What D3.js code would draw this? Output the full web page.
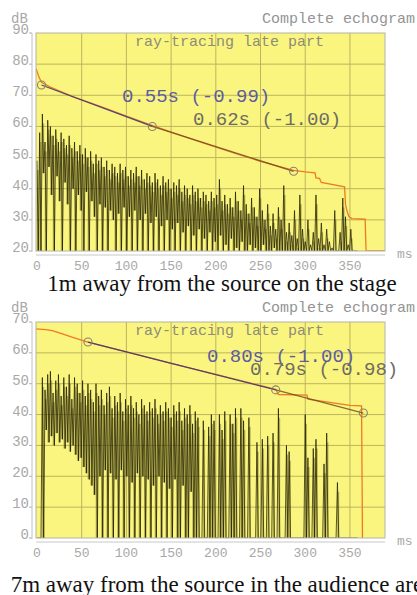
<!DOCTYPE html>
<html>
<head>
<meta charset="utf-8">
<script src="https://cdnjs.cloudflare.com/ajax/libs/d3/7.8.5/d3.min.js"></script>
<style>
  body { margin: 0; background: #fff; }
  svg { display: block; }
</style>
</head>
<body>
<svg id="chart" width="417" height="595"></svg>
<script>
// ---- data ----
var STEP = 3; // ms between echogram samples

var xTicks = [0, 50, 100, 150, 200, 250, 300, 350];
var stageYTicks = [20, 30, 40, 50, 60, 70, 80, 90];
var audYTicks = [0, 10, 20, 30, 40, 50, 60, 70];

// 1m from source, peak / trough level of each sample (dB)
var stageHi = [
  49, 58, 64, 55, 62, 60, 57, 59, 55, 58,
  56, 54, 57, 53, 55, 52, 54, 51, 53, 50,
  52, 48, 51, 49, 50, 47, 49, 46, 48, 47,
  45, 48, 46, 47, 44, 46, 45, 47, 44, 46,
  43, 45, 44, 42, 45, 43, 41, 44, 42, 43,
  40, 42, 41, 43, 39, 41, 40, 38, 41, 39,
  40, 37, 39, 38, 36, 39, 37, 38, 43, 36,
  38, 35, 37, 34, 39, 36, 33, 41, 35, 32,
  37, 34, 31, 40, 33, 30, 35, 28, 32, 27,
  34, 30, 41, 26, 29, 25, 33, 24, 38, 27,
  23, 30, 22, 26, 38, 24, 29, 22, 27, 23,
  21, 33, 20, 26, 37, 31, 22, 27, 20, 20
];
var stageLo = [
  20, 20, 45, 20, 47, 38, 20, 44, 36, 20,
  42, 35, 20, 40, 20, 38, 33, 20, 39, 20,
  36, 31, 20, 35, 20, 34, 20, 33, 30, 20,
  32, 20, 34, 20, 31, 20, 33, 20, 30, 20,
  32, 20, 29, 20, 31, 20, 28, 20, 30, 20,
  27, 20, 29, 20, 26, 20, 28, 20, 25, 20,
  27, 20, 24, 20, 26, 20, 23, 20, 25, 20,
  22, 20, 24, 20, 21, 20, 23, 20, 20, 22,
  20, 21, 20, 20, 22, 20, 20, 20, 21, 20,
  20, 20, 20, 20, 20, 20, 20, 20, 20, 20,
  20, 20, 20, 20, 20, 20, 20, 20, 20, 20,
  20, 20, 20, 20, 20, 20, 20, 20, 20, 20
];
// integrated decay curve [ms, dB]
var stageDecay = [[-1, 78.5], [2, 76], [5, 74.2], [15, 72.6], [40, 69.6], [70, 66.5],
  [100, 63.3], [130, 60.2], [160, 57.2], [190, 54.3], [220, 51.5], [250, 48.8],
  [287, 45.9], [300, 45.4], [311, 45.1], [312, 43.5], [316, 43.3], [318, 42],
  [344, 40.6], [345, 35], [347, 32.5], [349, 31], [352, 30.4], [367, 30.2],
  [368, 20], [389, 20]];
var stageMarks = [[5, 73.3], [129, 60], [287, 45.6]];
var stageFits = ["0.55s (-0.99)", "0.62s (-1.00)"];

// 7m from source
var audHi = [
  0, 0, 52, 48, 53, 54, 47, 51, 53, 46,
  52, 49, 53, 45, 52, 50, 47, 51, 46, 50,
  48, 44, 50, 46, 48, 43, 47, 49, 42, 46,
  44, 47, 41, 45, 43, 46, 42, 44, 40, 45,
  43, 41, 44, 42, 45, 40, 43, 41, 44, 42,
  39, 43, 41, 44, 38, 42, 40, 43, 37, 41,
  39, 0, 38, 0, 36, 40, 38, 0, 40, 35,
  41, 0, 40, 37, 42, 0, 42, 38, 0, 39,
  0, 0, 31, 0, 32, 0, 33, 0, 34, 0,
  42, 0, 0, 30, 28, 0, 0, 0, 0, 0,
  40, 26, 0, 29, 32, 0, 0, 24, 34, 0,
  0, 0, 18, 0, 0, 0, 0, 0, 0, 0
];
var audLo = [
  0, 0, 0, 35, 31, 33, 30, 34, 31, 32,
  29, 31, 28, 30, 27, 25, 26, 23, 21, 19,
  17, 14, 0, 20, 0, 22, 0, 21, 0, 19,
  0, 22, 0, 20, 0, 18, 0, 21, 0, 20,
  0, 19, 0, 17, 0, 20, 0, 18, 0, 16,
  0, 19, 0, 0, 17, 0, 0, 15, 0, 0,
  0, 0, 0, 0, 0, 0, 0, 0, 0, 0,
  0, 0, 0, 0, 0, 0, 0, 0, 0, 0,
  0, 0, 0, 0, 0, 0, 0, 0, 0, 0,
  0, 0, 0, 0, 0, 0, 0, 0, 0, 0,
  0, 0, 0, 0, 0, 0, 0, 0, 0, 0,
  0, 0, 0, 0, 0, 0, 0, 0, 0, 0
];
var audDecay = [[-1, 67.8], [10, 67.5], [17, 67.2], [25, 66.5], [40, 65], [57, 63.5],
  [100, 60.3], [150, 56.6], [200, 53], [267, 48.2], [270, 46.5], [302, 46.3],
  [303, 45], [350, 43], [363, 42.8], [364, 0]];
var audMarks = [[57, 63.5], [267, 48], [365, 40.5]];
var audFits = ["0.80s (-1.00)", "0.79s (-0.98)"];

var captions = ["1m away from the source on the stage",
                "7m away from the source in the audience area"];

// ---- drawing ----
var svg = d3.select("#chart");
var mono = "'Liberation Mono', 'Courier New', monospace";
var yellow = "#faf57f", gridCol = "#bdb55e", grayTxt = "#a8a8a8";

function drawPanel(p){
  var x = d3.scaleLinear().domain([-1.1, 389.2]).range([36, 385]);
  var y = d3.scaleLinear().domain(p.yDomain).range([p.bottom, p.top]);
  var g = svg.append("g");
  var clipId = "clip" + p.id;

  g.append("clipPath").attr("id", clipId)
    .append("rect").attr("x", 36).attr("y", p.top).attr("width", 349).attr("height", p.bottom - p.top);

  g.append("rect")
    .attr("x", 36).attr("y", p.top)
    .attr("width", 349).attr("height", p.bottom - p.top)
    .attr("fill", yellow);

  // grid
  g.selectAll(".vg").data(xTicks.slice(1)).enter().append("line")
    .attr("x1", function(d){ return x(d); }).attr("x2", function(d){ return x(d); })
    .attr("y1", p.top).attr("y2", p.bottom)
    .attr("stroke", gridCol).attr("stroke-width", 1);
  g.selectAll(".hg").data(p.yTicks.slice(1, -1)).enter().append("line")
    .attr("x1", 36).attr("x2", 385)
    .attr("y1", function(d){ return y(d); }).attr("y2", function(d){ return y(d); })
    .attr("stroke", gridCol).attr("stroke-width", 1);

  var body = g.append("g").attr("clip-path", "url(#" + clipId + ")");
  var floor = p.yDomain[0];

  // olive band behind each sample
  body.selectAll(".band").data(p.hi).enter().append("rect")
    .attr("x", function(d, i){ return x(i * STEP) - 0.3; })
    .attr("width", x(STEP) - x(0) - 0.6)
    .attr("y", function(d){ return y(d - 3); })
    .attr("height", function(d, i){
      if (d <= floor) return 0;
      return Math.max(0, y(p.lo[i]) - y(d - 3));
    })
    .attr("fill", "#6e6818")
    .attr("fill-opacity", 0.45);

  // echogram as a saw-tooth between peaks and troughs
  var pts = [];
  p.hi.forEach(function(v, i){
    pts.push([i * STEP, v]);
    pts.push([i * STEP + STEP / 2, p.lo[i]]);
  });
  var line = d3.line().x(function(d){ return x(d[0]); }).y(function(d){ return y(d[1]); });
  body.append("path").datum(pts)
    .attr("d", line)
    .attr("fill", "none")
    .attr("stroke", "#1c1a00")
    .attr("stroke-opacity", 0.8)
    .attr("stroke-width", 0.9);

  // decay curve
  body.append("path").datum(p.decay)
    .attr("d", line)
    .attr("fill", "none")
    .attr("stroke", "#f07a22")
    .attr("stroke-width", 1.3);

  // fitted slopes
  body.append("path").datum([p.marks[0], p.marks[1]])
    .attr("d", line).attr("fill", "none")
    .attr("stroke", "#34347c").attr("stroke-width", 1.3).attr("stroke-opacity", 0.85);
  body.append("path").datum([p.marks[1], p.marks[2]])
    .attr("d", line).attr("fill", "none")
    .attr("stroke", "#6a4a22").attr("stroke-width", 1.3).attr("stroke-opacity", 0.8);

  g.selectAll(".mk").data(p.marks).enter().append("circle")
    .attr("cx", function(d){ return x(d[0]); })
    .attr("cy", function(d){ return y(d[1]); })
    .attr("r", 4)
    .attr("fill", "none")
    .attr("stroke", "#8a8070")
    .attr("stroke-width", 1.1);

  g.append("rect")
    .attr("x", 36).attr("y", p.top)
    .attr("width", 349).attr("height", p.bottom - p.top)
    .attr("fill", "none").attr("stroke", "#b4b4a8");

  // axes
  g.append("line").attr("x1", 32).attr("x2", 32).attr("y1", p.top).attr("y2", p.bottom + 1)
    .attr("stroke", "#c0c0c0");
  g.append("line").attr("x1", 36).attr("x2", 385).attr("y1", p.bottom + 4).attr("y2", p.bottom + 4)
    .attr("stroke", "#c8c8c8");

  g.selectAll(".yt").data(p.yTicks).enter().append("line")
    .attr("x1", 29).attr("x2", 32)
    .attr("y1", function(d){ return y(d); }).attr("y2", function(d){ return y(d); })
    .attr("stroke", "#b0b0b0");
  g.selectAll(".yl").data(p.yTicks).enter().append("text")
    .attr("x", 29).attr("y", function(d){ return y(d) + 1; })
    .attr("text-anchor", "end")
    .attr("font-family", mono).attr("font-size", 14)
    .attr("fill", grayTxt)
    .text(function(d){ return d; });
  g.append("text").attr("x", 11).attr("y", p.top - 10)
    .attr("font-family", mono).attr("font-size", 14).attr("fill", grayTxt).text("dB");

  g.selectAll(".xl").data(xTicks).enter().append("text")
    .attr("x", function(d){ return x(d); }).attr("y", p.bottom + 19)
    .attr("text-anchor", "middle")
    .attr("font-family", mono).attr("font-size", 13)
    .attr("fill", grayTxt)
    .text(function(d){ return d; });
  g.append("text").attr("x", 397).attr("y", p.bottom + 7)
    .attr("font-family", mono).attr("font-size", 13).attr("fill", grayTxt).text("ms");

  g.append("text").attr("x", 415).attr("y", p.top - 10)
    .attr("text-anchor", "end")
    .attr("font-family", mono).attr("font-size", 15).attr("fill", "#949494")
    .text("Complete echogram");
  g.append("text").attr("x", 135).attr("y", p.top + 13)
    .attr("font-family", mono).attr("font-size", 15).attr("fill", "#8e8c78")
    .text("ray-tracing late part");

  g.append("text").attr("x", p.fit1[0]).attr("y", p.fit1[1])
    .attr("font-family", mono).attr("font-size", 19).attr("fill", "#5c5ca0")
    .text(p.fits[0]);
  g.append("text").attr("x", p.fit2[0]).attr("y", p.fit2[1])
    .attr("font-family", mono).attr("font-size", 19).attr("fill", "#6c6c64")
    .text(p.fits[1]);

  svg.append("text").attr("x", 222).attr("y", p.capY)
    .attr("text-anchor", "middle")
    .attr("font-family", "'Liberation Serif', 'Times New Roman', serif")
    .attr("font-size", 23).attr("fill", "#111")
    .text(p.caption);
}

drawPanel({id: 1, top: 33, bottom: 251, yDomain: [20, 90], yTicks: stageYTicks,
  hi: stageHi, lo: stageLo, decay: stageDecay, marks: stageMarks, fits: stageFits,
  fit1: [122, 102], fit2: [193, 125], caption: captions[0], capY: 291});
drawPanel({id: 2, top: 322, bottom: 538, yDomain: [0, 70], yTicks: audYTicks,
  hi: audHi, lo: audLo, decay: audDecay, marks: audMarks, fits: audFits,
  fit1: [207, 362], fit2: [250, 375], caption: captions[1], capY: 592});
</script>
</body>
</html>
